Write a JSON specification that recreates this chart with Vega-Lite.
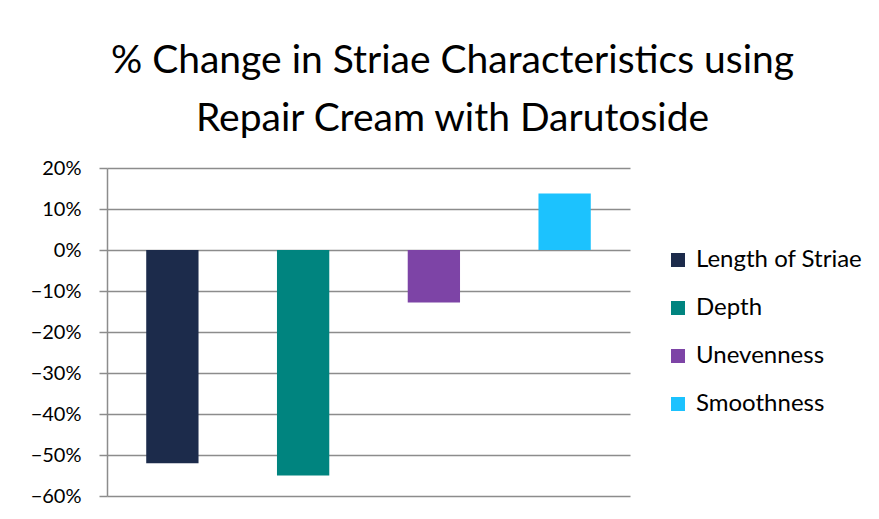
{
  "$schema": "https://vega.github.io/schema/vega-lite/v6.json",
  "autosize": {"type": "none"},
  "width": 523,
  "height": 328,
  "padding": {"left": 107, "top": 168, "right": 249, "bottom": 23},
  "background": "white",
  "title": {
    "text": ["% Change in Striae Characteristics using", "Repair Cream with Darutoside"],
    "font": "Lato",
    "fontSize": 39,
    "fontWeight": "normal",
    "color": "#000000",
    "lineHeight": 58,
    "anchor": "middle",
    "dx": 84,
    "offset": 19
  },
  "data": {
    "values": [
      {"category": "Length of Striae", "change": -0.52},
      {"category": "Depth", "change": -0.55},
      {"category": "Unevenness", "change": -0.128},
      {"category": "Smoothness", "change": 0.138}
    ]
  },
  "mark": {"type": "bar"},
  "encoding": {
    "x": {
      "field": "category",
      "type": "nominal",
      "sort": null,
      "axis": null,
      "scale": {"paddingInner": 0.6, "paddingOuter": 0.3}
    },
    "y": {
      "field": "change",
      "type": "quantitative",
      "scale": {"domain": [-0.6, 0.2], "nice": false},
      "axis": {
        "title": null,
        "format": ".0%",
        "values": [-0.6, -0.5, -0.4, -0.3, -0.2, -0.1, 0, 0.1, 0.2],
        "labelFont": "Lato",
        "labelFontSize": 20,
        "labelColor": "#000000",
        "labelPadding": 18,
        "tickSize": 8,
        "tickColor": "#8c8c8c",
        "tickWidth": 1.5,
        "domainColor": "#8c8c8c",
        "domainWidth": 1.5,
        "gridColor": "#8c8c8c",
        "gridWidth": 1.5
      }
    },
    "color": {
      "field": "category",
      "type": "nominal",
      "sort": null,
      "scale": {
        "domain": ["Length of Striae", "Depth", "Unevenness", "Smoothness"],
        "range": ["#1C2B4B", "#00847F", "#7D44A6", "#1CC2FE"]
      },
      "legend": {
        "title": null,
        "orient": "none",
        "legendX": 559,
        "legendY": 80,
        "symbolType": "square",
        "symbolSize": 196,
        "symbolStrokeWidth": 0,
        "symbolOpacity": 1,
        "labelFont": "Lato",
        "labelFontSize": 24,
        "labelColor": "#000000",
        "labelOffset": 6,
        "labelLimit": 300,
        "rowPadding": 24
      }
    }
  },
  "config": {"view": {"stroke": null}}
}
